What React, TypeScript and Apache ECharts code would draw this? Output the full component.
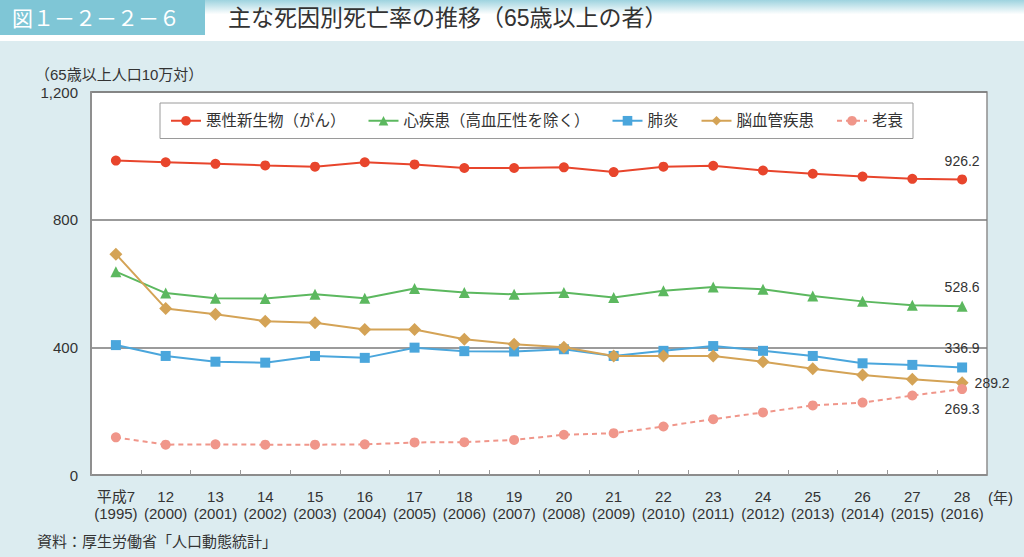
import React, { useEffect, useRef } from "react";
import * as echarts from "echarts";

const categories = ["平成7", "12", "13", "14", "15", "16", "17", "18", "19", "20", "21", "22", "23", "24", "25", "26", "27", "28"];
const years = ["1995", "2000", "2001", "2002", "2003", "2004", "2005", "2006", "2007", "2008", "2009", "2010", "2011", "2012", "2013", "2014", "2015", "2016"];

const cancer = [985, 980, 975, 970, 966, 980, 973, 962, 962, 964, 949, 966, 969, 954, 944, 935, 928, 926.2];
const heart = [637, 570, 554, 553, 566, 554, 584, 572, 566, 572, 556, 577, 589, 582, 561, 544, 532, 528.6];
const pneumonia = [407, 373, 355, 352, 373, 367, 399, 388, 387, 394, 373, 389, 404, 389, 373, 350, 345, 336.9];
const stroke = [692, 522, 504, 482, 477, 456, 456, 425, 410, 400, 373, 373, 373, 355, 333, 313, 300, 289.2];
const senility = [118, 95, 96, 95, 95, 96, 102, 103, 110, 126, 131, 152, 175, 196, 218, 227, 249, 269.3];

const seriesNames = ["悪性新生物（がん）", "心疾患（高血圧性を除く）", "肺炎", "脳血管疾患", "老衰"];
const yMin = 0;
const yMax = 1200;
const yInterval = 400;

const titleNo = "図１－２－２－６";
const titleText = "主な死因別死亡率の推移（65歳以上の者）";
const yAxisName = "（65歳以上人口10万対）";
const xAxisUnit = "(年)";
const sourceText = "資料：厚生労働省「人口動態統計」";

const FONT = "'Liberation Sans', 'Noto Sans CJK JP', sans-serif";

function withEndLabel(values: number[], position: string, distance: number) {
  return values.map((v, i) =>
    i === values.length - 1
      ? {
          value: v,
          label: {
            show: true,
            position,
            distance,
            formatter: String(v),
            color: "#333",
            fontSize: 14,
            fontFamily: FONT,
          },
        }
      : v
  );
}

export default function App() {
  const ref = useRef<HTMLDivElement>(null);

  useEffect(() => {
    if (!ref.current) return;
    const chart = echarts.init(ref.current, undefined, { renderer: "svg" });

    const makeSeries = (
      name: string,
      data: any[],
      color: string,
      symbol: string,
      symbolSize: number,
      dashed = false
    ) => ({
      name,
      type: "line",
      data,
      symbol,
      symbolSize,
      showSymbol: true,
      itemStyle: { color },
      lineStyle: { color, width: 2, type: dashed ? [5, 4] : "solid" },
      label: { show: false },
      z: 3,
    });

    chart.setOption({
      animation: false,
      backgroundColor: "#dcecf0",
      textStyle: { fontFamily: FONT },
      graphic: [
        {
          type: "rect",
          shape: { x: 0, y: 0, width: 1024, height: 41 },
          style: {
            fill: new echarts.graphic.LinearGradient(0, 0, 0, 1, [
              { offset: 0, color: "#9ed3df" },
              { offset: 0.35, color: "#ffffff" },
              { offset: 1, color: "#ffffff" },
            ]),
          },
          silent: true,
        },
        {
          type: "rect",
          shape: { x: 0, y: 0, width: 205, height: 35 },
          style: { fill: "#7fc6d6" },
          silent: true,
        },
        {
          type: "text",
          x: 12,
          y: 18,
          style: {
            text: titleNo,
            fill: "#ffffff",
            fontSize: 21,
            fontFamily: FONT,
            verticalAlign: "middle",
          },
        },
        {
          type: "text",
          x: 228,
          y: 18,
          style: {
            text: titleText,
            fill: "#333333",
            fontSize: 23,
            fontFamily: FONT,
            verticalAlign: "middle",
          },
        },
        {
          type: "text",
          x: 35,
          y: 74,
          style: {
            text: yAxisName,
            fill: "#333333",
            fontSize: 15,
            fontFamily: FONT,
            verticalAlign: "middle",
          },
        },
        {
          type: "text",
          x: 988,
          y: 497,
          style: {
            text: xAxisUnit,
            fill: "#333333",
            fontSize: 15,
            fontFamily: FONT,
            verticalAlign: "middle",
          },
        },
        {
          type: "text",
          x: 37,
          y: 541,
          style: {
            text: sourceText,
            fill: "#333333",
            fontSize: 15,
            fontFamily: FONT,
            verticalAlign: "middle",
          },
        },
      ],
      grid: {
        left: 91,
        right: 37,
        top: 92,
        bottom: 82,
        show: true,
        backgroundColor: "#ffffff",
        borderColor: "#8f8f8f",
        borderWidth: 1.5,
      },
      legend: {
        left: 160,
        top: 103,
        width: 770,
        padding: [10, 10, 10, 10],
        itemGap: 22,
        itemWidth: 30,
        itemHeight: 12,
        backgroundColor: "#ffffff",
        borderColor: "#9a9a9a",
        borderWidth: 1,
        textStyle: { fontSize: 15.5, color: "#333", fontFamily: FONT },
        data: seriesNames,
      },
      xAxis: {
        type: "category",
        data: categories,
        boundaryGap: true,
        axisLine: { show: true, lineStyle: { color: "#8f8f8f", width: 1.5 } },
        axisTick: { show: true, inside: true, length: 5, lineStyle: { color: "#999" } },
        axisLabel: {
          interval: 0,
          margin: 13,
          color: "#333",
          formatter: (v: string, i: number) => `{a|${v}}\n{b|(${years[i]})}`,
          rich: {
            a: { fontSize: 15, lineHeight: 17, color: "#333", fontFamily: FONT },
            b: { fontSize: 15, lineHeight: 17, color: "#333", fontFamily: FONT },
          },
        },
        splitLine: { show: false },
      },
      yAxis: {
        type: "value",
        min: yMin,
        max: yMax,
        interval: yInterval,
        axisLine: { show: true, lineStyle: { color: "#8f8f8f", width: 2 } },
        axisTick: { show: false },
        axisLabel: {
          margin: 13,
          color: "#333",
          fontSize: 15,
          fontFamily: FONT,
          formatter: (v: number) => v.toLocaleString("en-US"),
        },
        splitLine: { show: true, lineStyle: { color: "#7a7a7a", width: 1.5 } },
      },
      series: [
        makeSeries(seriesNames[0], withEndLabel(cancer, "top", 6), "#e8452c", "circle", 10),
        makeSeries(seriesNames[1], withEndLabel(heart, "top", 7), "#5cb85f", "triangle", 11),
        makeSeries(seriesNames[2], withEndLabel(pneumonia, "top", 7), "#4aa6dc", "rect", 10),
        makeSeries(seriesNames[3], withEndLabel(stroke, "right", 6), "#d4a356", "diamond", 13),
        makeSeries(seriesNames[4], withEndLabel(senility, "bottom", 8), "#f0968a", "circle", 10, true),
      ],
    });

    return () => chart.dispose();
  }, []);

  return (
    <div
      ref={ref}
      style={{ position: "absolute", left: 0, top: 0, width: 1024, height: 557 }}
    />
  );
}
